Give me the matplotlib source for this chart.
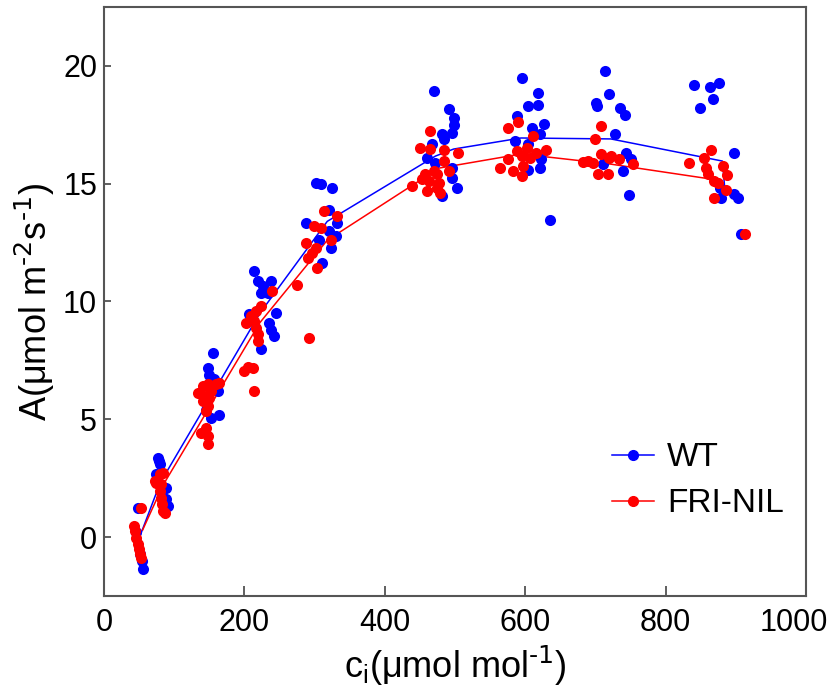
import matplotlib
matplotlib.use('Agg')
from matplotlib import pyplot as plt
from matplotlib.transforms import ScaledTranslation

plt.rcParams['font.family'] = ['Liberation Sans', 'DejaVu Sans']
plt.rcParams['mathtext.default'] = 'regular'

###data###

# WT measurements (ci, A)
wt_x = [48.7, 53.5, 55.8, 51, 46,
        77, 79.4, 78.5, 74.6, 89, 91, 88.4,
        155, 148, 150, 157, 162, 164.5, 153, 146,
        214, 219, 226, 238, 223.6, 233, 245, 207, 235.5, 238, 242.5, 223.6,
        301.6, 308.7, 325, 287.5, 320.6, 332, 320.6, 330, 306.4, 323, 311,
        469.5, 491, 498, 498, 495.5, 481, 484, 467, 460, 472, 495.5, 495.5, 502.6, 481,
        595.7, 618.4, 604, 618.4, 587.7, 627, 609, 621, 585.3, 604, 623, 604, 621, 635,
        714, 720, 701, 702, 735.7, 742, 728, 743.7, 751, 710.6, 739, 748.5,
        840.6, 863, 876, 868, 849, 897, 878.5, 897, 903, 907, 878]
wt_y = [1.24, -1.0, -1.37, -0.7, 0.2,
        3.37, 3.1, 3.23, 2.67, 2.1, 1.3, 1.6,
        7.82, 7.19, 6.9, 6.7, 6.2, 5.2, 5.07, 5.4,
        11.29, 10.87, 10.65, 10.87, 10.37, 10.37, 9.52, 9.45, 9.1, 8.81, 8.53, 7.97,
        15.04, 15.0, 14.83, 13.34, 13.9, 13.34, 13.0, 12.78, 12.63, 12.28, 11.64,
        18.93, 18.15, 17.8, 17.5, 17.16, 17.09, 16.88, 16.67, 16.1, 15.89, 15.68, 15.25, 14.83, 14.47,
        19.5, 18.83, 18.3, 18.32, 17.87, 17.52, 17.37, 17.09, 16.81, 16.67, 16.03, 15.6, 15.68, 13.48,
        19.78, 18.79, 18.44, 18.3, 18.23, 17.9, 17.09, 16.31, 16.03, 15.82, 15.53, 14.5,
        19.21, 19.12, 19.28, 18.6, 18.22, 16.31, 14.4, 14.55, 14.4, 12.85, 14.8]

# FRI-NIL measurements (ci, A)
fri_x = [53.4, 42.5, 44, 46, 49, 50, 51, 53.4,
         79.4, 72.3, 81.8, 79.4, 81.8, 83, 84, 74.6, 84, 86.5,
         134, 141, 148, 160, 164.5, 143, 150, 153, 141, 148, 146, 146, 138.5, 148, 148,
         240, 223.6, 216.5, 209.5, 202, 214, 216.5, 219, 219, 200, 211.8, 214, 205,
         313.5, 332, 299, 308.7, 323, 287.5, 301.6, 297, 290, 304, 275.6, 292,
         465, 450.6, 465, 485, 505, 483.7, 469.5, 457.7, 474, 491, 453, 462.4, 476.6, 438.7, 460, 474, 479,
         576, 590, 611, 587.7, 602, 616, 630, 576, 594.8, 606.7, 564, 583, 597, 594.8,
         689, 708, 700, 682, 696.5, 708, 720, 734, 753, 703.5, 717.7, 722,
         864, 833.5, 855, 857, 882, 860, 888, 869, 874, 885.6, 869, 912.5]
fri_y = [1.24, 0.47, 0.25, -0.03, -0.3, -0.52, -0.73, -0.88,
         2.66, 2.38, 2.24, 1.95, 1.67, 1.39, 1.1, 2.3, 2.73, 1.03,
         6.12, 6.4, 6.48, 6.48, 6.55, 6.0, 5.9, 6.2, 5.77, 5.56, 5.35, 4.64, 4.43, 4.29, 3.93,
         10.44, 9.8, 9.59, 9.38, 9.1, 9.17, 8.89, 8.6, 8.32, 7.05, 7.19, 6.2, 7.2,
         13.84, 13.62, 13.2, 13.13, 12.63, 12.5, 12.28, 12.07, 11.86, 11.43, 10.72, 8.46,
         17.23, 16.52, 16.46, 16.41, 16.31, 15.96, 15.53, 15.4, 15.4, 15.53, 15.18, 15.11, 15.04, 14.9, 14.69, 14.83, 14.62,
         17.37, 17.6, 17.02, 16.38, 16.52, 16.31, 16.45, 16.03, 16.17, 16.1, 15.68, 15.53, 15.75, 15.32,
         15.96, 17.45, 16.88, 15.92, 15.89, 16.24, 16.1, 16.03, 15.82, 15.4, 15.4, 16.17,
         16.45, 15.89, 16.1, 15.68, 15.75, 15.4, 15.35, 15.11, 15.04, 14.73, 14.4, 12.85]

# fitted curves (vertices)
wt_fit_x = [52, 80, 155, 222, 318, 472, 498, 594, 722, 881, 884]
wt_fit_y = [0.1, 2.3, 6.1, 9.5, 13.4, 16.17, 16.47, 16.94, 16.9, 15.96, 14.9]
fri_fit_x = [55, 84, 152, 222, 318, 477, 594, 722, 855, 877]
fri_fit_y = [0.3, 2.2, 5.6, 9.1, 12.6, 15.66, 16.26, 15.83, 15.24, 15.2]

###graph###
fig = plt.figure(figsize=(8.34, 7.0), dpi=100)
ax = fig.add_axes([0.1247, 0.1486, 0.8417, 0.8414])

ax.plot(wt_fit_x, wt_fit_y, c='blue', lw=1.1, zorder=2)
ax.plot(fri_fit_x, fri_fit_y, c='red', lw=1.1, zorder=2)
ax.scatter(wt_x, wt_y, s=64, c='blue', lw=0, zorder=3)
ax.scatter(fri_x, fri_y, s=64, c='red', lw=0, zorder=4)

# legend handles: line with a dot
ax.plot([], [], c='blue', lw=1.1, marker='o', ms=7, label='WT')
ax.plot([], [], c='red', lw=1.1, marker='o', ms=7, label='FRI-NIL')
ax.legend(loc='upper left', bbox_to_anchor=(0.7236, 0.261), frameon=False,
          borderpad=0, borderaxespad=0, fontsize=24, handlelength=1.25,
          handletextpad=0.4, labelspacing=0.45)

ax.set_xlim(0, 1000)
ax.set_ylim(-2.5, 22.5)
ax.set_xticks([0, 200, 400, 600, 800, 1000])
ax.set_yticks([0, 5, 10, 15, 20])
ax.tick_params(axis='both', direction='in', labelsize=22, color='#444444')
ax.tick_params(axis='x', length=7, width=1.2, pad=9)
ax.tick_params(axis='y', length=5, width=1.2, pad=5)
for sp in ax.spines.values():
    sp.set_color('#555555')
    sp.set_linewidth(1.5)

# the last x label sits a bit to the left, as in the original
lastlab = ax.get_xticklabels()[-1]
lastlab.set_transform(lastlab.get_transform() + ScaledTranslation(-0.12, 0, fig.dpi_scale_trans))

ax.set_xlabel('c$_{i}$(μmol mol$^{\\text{-1}}$)', fontsize=26, labelpad=4)
ax.set_ylabel('A(μmol m$^{\\text{-2}}$s$^{\\text{-1}}$)', fontsize=26, labelpad=4)

plt.savefig('out.png', dpi=100)
